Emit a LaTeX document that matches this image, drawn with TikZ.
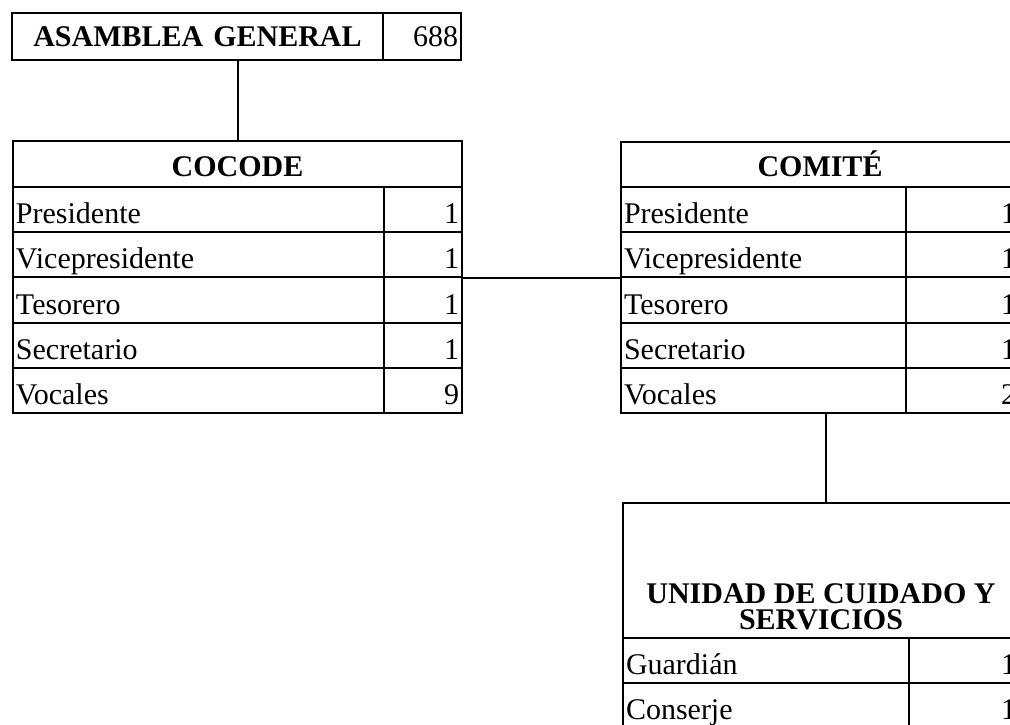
\documentclass[tikz,border=0pt]{standalone}
\usepackage{fontspec}
\setmainfont{Liberation Serif}
\usetikzlibrary{positioning}

\tikzset{
  cell/.style={draw, line width=2pt, rectangle, anchor=north west,
    inner xsep=3pt, inner ysep=0pt, minimum height=45.2pt,
    text height=32pt, text depth=4pt, font=\fontsize{30}{31}\selectfont},
  lbl/.style={cell, align=left},
  num/.style={cell, align=right},
  tit/.style={cell, align=center, text height=30pt, text depth=6pt,
    font=\bfseries\fontsize{30}{25}\selectfont},
  head/.style={align=center, inner sep=0pt, font=\bfseries\fontsize{30}{26}\selectfont},
  link/.style={line width=2pt}
}

\begin{document}
\begin{tikzpicture}[x=1pt, y=-1pt]
  \useasboundingbox (0,0) rectangle (1010,724);
  \clip (0,0) rectangle (1010,724);

  % asamblea
  \node[tit, text width=365pt, minimum height=47pt, text height=28pt, text depth=8pt] (asamblea) at (11,12) {ASAMBLEA GENERAL};
  \node[num, text width=72pt, minimum height=47pt, text height=28pt, text depth=8pt] (asambleanum) at (382,12) {688};

  % cocode
  \node[tit, text width=443pt, minimum height=46pt] (cocode) at (12,140) {COCODE};
  \node[lbl, text width=365pt] (cocodepre) at (12,186) {Presidente};
  \node[num, text width=72pt] (cocodepren) at (383,186) {1};
  \node[lbl, text width=365pt] (cocodevice) at (12,231.2) {Vicepresidente};
  \node[num, text width=72pt] (cocodevicen) at (383,231.2) {1};
  \node[lbl, text width=365pt] (cocodetes) at (12,276.4) {Tesorero};
  \node[num, text width=72pt] (cocodetesn) at (383,276.4) {1};
  \node[lbl, text width=365pt] (cocodesec) at (12,321.6) {Secretario};
  \node[num, text width=72pt] (cocodesecn) at (383,321.6) {1};
  \node[lbl, text width=365pt] (cocodevoc) at (12,366.8) {Vocales};
  \node[num, text width=72pt] (cocodevocn) at (383,366.8) {9};

  % comite
  \node[tit, text width=392pt, minimum height=45pt] (comite) at (620,141) {COMITÉ};
  \node[lbl, text width=279pt] (comitepre) at (620,186) {Presidente};
  \node[num, text width=107pt] (comitepren) at (905,186) {1};
  \node[lbl, text width=279pt] (comitevice) at (620,231.2) {Vicepresidente};
  \node[num, text width=107pt] (comitevicen) at (905,231.2) {1};
  \node[lbl, text width=279pt] (comitetes) at (620,276.4) {Tesorero};
  \node[num, text width=107pt] (comitetesn) at (905,276.4) {1};
  \node[lbl, text width=279pt] (comitesec) at (620,321.6) {Secretario};
  \node[num, text width=107pt] (comitesecn) at (905,321.6) {1};
  \node[lbl, text width=279pt] (comitevoc) at (620,366.8) {Vocales};
  \node[num, text width=107pt] (comitevocn) at (905,366.8) {2};

  % unidad
  \node[cell, minimum width=396pt, minimum height=135pt] (unidad) at (622,502) {};
  \node[head, anchor=south] (unidadtxt) at ([yshift=9pt]unidad.south) {UNIDAD DE CUIDADO Y\\SERVICIOS};
  \node[lbl, text width=280pt] (unidadgua) at (622,637) {Guardián};
  \node[num, text width=104pt] (unidadguan) at (908,637) {1};
  \node[lbl, text width=280pt] (unidadcon) at (622,682) {Conserje};
  \node[num, text width=104pt] (unidadconn) at (908,682) {1};

  % connectors
  \draw[link] (cocode.north) -- (cocode.north |- asamblea.south);
  \draw[link] (cocodevicen.south east) -- (comitevice.south west);
  \draw[link] ([xshift=5pt]unidad.north) -- ([xshift=5pt]unidad.north |- comitevoc.south);
\end{tikzpicture}
\end{document}
